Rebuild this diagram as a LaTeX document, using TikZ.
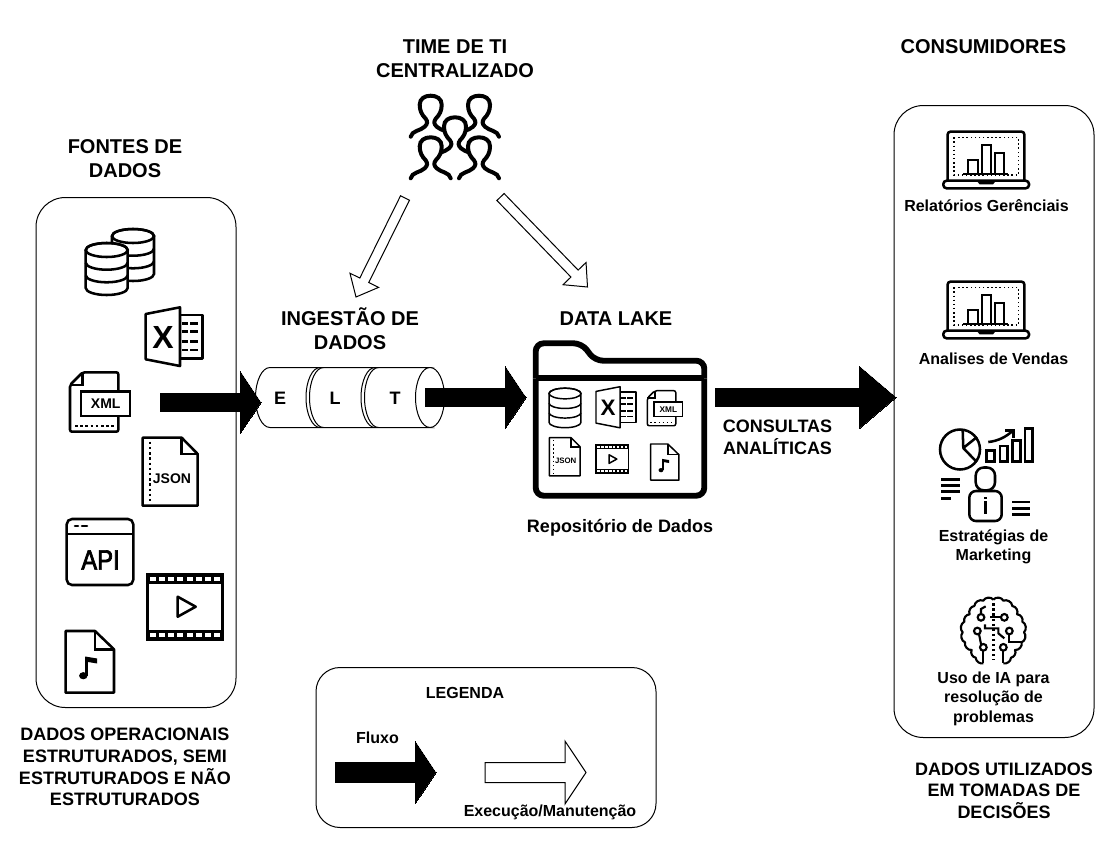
\documentclass[tikz,border=0pt]{standalone}
\usepackage{fontspec}
\setmainfont{Liberation Sans}
\newfontfamily\apifont[FakeBold=2.5,FakeStretch=.85]{Liberation Sans}
\usetikzlibrary{calc}

\tikzset{
    titletext/.style={inner sep=0, align=center, font=\fontsize{15}{18}\selectfont\bfseries},
    midtext/.style={inner sep=0, align=center, font=\fontsize{13.5}{16.2}\selectfont\bfseries},
    smalltext/.style={inner sep=0, align=center, font=\fontsize{12}{14.6}\selectfont\bfseries},
    groupbox/.style={draw, line width=.75pt, rounded corners=22pt},
    flowarrow/.style={fill=black, draw=black, line width=0pt},
    execarrow/.style={fill=white, draw=black, line width=.75pt},
    pics/xlsicon/.style={code={
        \draw[line join=round] (34.3,7.7) -- (57,7.7) -- (57,51.4) -- (34.3,51.4);
        \draw[line join=round] (0,6.7) -- (34.3,0) -- (34.3,58.7) -- (0,52) -- cycle;
        \foreach \rowy in {16,24.4,34.4,42.7} {
            \draw (36,\rowy) -- (42.6,\rowy);
            \draw (44.3,\rowy) -- (52.6,\rowy);
        }
        \node[transform shape, inner sep=0, font=\fontsize{24}{24}\selectfont\bfseries] (xmark) at (17.3,29.7) {X};
    }},
    pics/xmlicon/.style={code={
        \draw[rounded corners=1.5pt] (0,12.7) -- (12.7,0) -- (48.3,0) -- (48.3,59.4) -- (0,59.4) -- cycle;
        \draw (12.7,0) -- (12.7,12.7) -- (0,12.7);
        \draw[dotted] (5,53.7) -- (45,53.7);
        \draw[fill=white] (11,19.4) rectangle (60,43.7);
        \node[transform shape, inner sep=0, font=\fontsize{10.5}{10.5}\selectfont\bfseries] (xmltag) at (35.7,31.7) {XML};
    }},
    pics/jsonicon/.style={code={
        \draw[line join=round] (0,0) -- (39,0) -- (55,16.3) -- (55,68) -- (0,68) -- cycle;
        \draw (39,0) -- (39,16.3) -- (55,16.3);
        \draw[dotted] (7.3,4) -- (7.3,64);
        \node[transform shape, inner sep=0, font=\fontsize{10.5}{10.5}\selectfont\bfseries] (jsontag) at (29.3,40.6) {JSON};
    }},
    pics/filmicon/.style={code={
        \fill (0,0) rectangle (75.4,10);
        \fill (0,56) rectangle (75.4,66);
        \foreach \holeno in {0,...,7} {
            \fill[white] (2.5+9.2*\holeno,2.7) rectangle (8.5+9.2*\holeno,7.3);
            \fill[white] (2.5+9.2*\holeno,58.7) rectangle (8.5+9.2*\holeno,63.3);
        }
        \draw (0,0) rectangle (75.4,66);
        \draw[line join=round] (30.4,22.7) -- (30.4,42.7) -- (48.4,32.7) -- cycle;
    }},
    pics/musicicon/.style={code={
        \draw[line join=round] (0,0) -- (29.3,0) -- (48.3,18.3) -- (48.3,61.7) -- (0,61.7) -- cycle;
        \draw (29.3,0) -- (29.3,18.3) -- (48.3,18.3);
        \fill (17.6,44.7) ellipse (4.2 and 3.6);
        \fill (19.5,44.7) rectangle (22.4,26);
        \fill (19.5,25.5) -- (31.5,27.5) -- (31.5,32.5) -- (19.5,30.5) -- cycle;
    }},
    pics/dbicon/.style={code={
        \draw[fill=white] (-21,0) -- (-21,38) arc (180:0:21 and 7) -- (21,0) arc (0:-180:21 and 7);
        \draw (0,0) ellipse (21 and 7);
        \draw (-21,12.7) arc (180:0:21 and 7);
        \draw (-21,25.3) arc (180:0:21 and 7);
    }},
    pics/laptopicon/.style={code={
        \draw[rounded corners=2pt] (4.4,49) -- (4.4,0) -- (81,0) -- (81,49);
        \draw[rounded corners=2.5pt] (0,49) -- (85.7,49) -- (85.7,56.6) -- (0,56.6) -- cycle;
        \draw (35,49) -- (37,51.5) -- (49,51.5) -- (51,49);
        \draw[dotted, line width=1.1pt] (10.7,5.6) rectangle (75,43.3);
        \draw[line width=1.6pt] (20,42.6) -- (65,42.6);
        \draw[line width=1.6pt] (24.4,42.6) -- (24.4,28.3) -- (34.4,28.3) -- (34.4,42.6);
        \draw[line width=1.6pt] (38.4,42.6) -- (38.4,13.3) -- (47.4,13.3) -- (47.4,42.6);
        \draw[line width=1.6pt] (51.7,42.6) -- (51.7,21.6) -- (61,21.6) -- (61,42.6);
    }},
    pics/teamperson/.style={code={
        \draw[fill=white, line width=3pt, line cap=round]
        (-20,30) .. controls (-19,24) and (-10,24) .. (-6,20)
        .. controls (-3,17) and (-3,15) .. (-5,12)
        .. controls (-9,8) and (-11,4) .. (-11,-2)
        .. controls (-11,-8) and (-6,-11) .. (0,-11)
        .. controls (6,-11) and (11,-8) .. (11,-2)
        .. controls (11,4) and (9,8) .. (5,12)
        .. controls (3,15) and (3,17) .. (6,20)
        .. controls (10,24) and (19,24) .. (20,30);
    }},
}

\newcommand{\blockarrow}[6][]{
    \coordinate (hb) at ($(#3)!#4!(#2)$);
    \draw[#1] ($(#2)!#5!90:(#3)$) -- ($(hb)!#5!-90:(#2)$) -- ($(hb)!#6!-90:(#2)$) -- (#3)
    -- ($(hb)!#6!90:(#2)$) -- ($(hb)!#5!90:(#2)$) -- ($(#2)!#5!-90:(#3)$) -- cycle;
}

\begin{document}
\begin{tikzpicture}[x=.75pt, y=-.75pt]
    \useasboundingbox (0,0) rectangle (1109,843);

    \draw[groupbox] (36,197.5) rectangle (236,707.5);
    \draw[groupbox] (894,105.5) rectangle (1094,737.5);
    \draw[groupbox, rounded corners=18pt] (316,667.5) rectangle (656,827.5);

    \node[titletext] (team) at (455,59) {TIME DE TI\\CENTRALIZADO};
    \node[titletext] (consumers) at (983.5,47) {CONSUMIDORES};
    \node[titletext] (sources) at (125,159) {FONTES DE\\DADOS};
    \node[titletext] (ingest) at (350,329) {INGESTÃO DE\\DADOS};
    \node[titletext] (lake) at (616,319) {DATA LAKE};
    \node[midtext] (repo) at (620,527.5) {Repositório de Dados};
    \node[midtext] (queries) at (777.5,437.5) {CONSULTAS\\ANALÍTICAS};
    \node[midtext] (sourcesnote) at (125,767) {DADOS OPERACIONAIS\\ESTRUTURADOS, SEMI\\ESTRUTURADOS E NÃO\\ESTRUTURADOS};
    \node[midtext] (usednote) at (1004,790.5) {DADOS UTILIZADOS\\EM TOMADAS DE\\DECISÕES};

    \node[smalltext] (reports) at (986.5,205.5) {Relatórios Gerênciais};
    \node[smalltext] (sales) at (993.5,358.5) {Analises de Vendas};
    \node[smalltext] (marketing) at (993.5,547) {Estratégias de\\Marketing};
    \node[smalltext] (aiuse) at (993.5,698.5) {Uso de IA para\\resolução de\\problemas};
    \node[smalltext] (legend) at (465,692.5) {LEGENDA};
    \node[smalltext] (flowlabel) at (377.5,737.5) {Fluxo};
    \node[smalltext] (execlabel) at (550,812.5) {Execução/Manutenção};

    \begin{scope}[line width=1.9pt]
        \pic (dbback) at (133,236) {dbicon};
        \pic (dbfront) at (106.7,250) {dbicon};
        \pic (xlsbig) at (145.7,307.3) {xlsicon};
        \pic (xmlbig) at (70,372.3) {xmlicon};
        \pic (jsonbig) at (142.7,437.7) {jsonicon};
        \pic (filmbig) at (147.3,574) {filmicon};
        \pic (musicbig) at (65.7,631) {musicicon};
        \pic (reportpc) at (943.3,131.7) {laptopicon};
        \pic (salespc) at (943.3,281.7) {laptopicon};

        \draw[rounded corners=4pt] (66.7,519) rectangle (133.3,585);
        \draw (66.7,534) -- (133.3,534);
        \draw[line cap=round] (75,526) -- (78,526);
        \draw[line cap=round] (82,526) -- (87,526);
        \node[inner sep=0, font=\apifont\fontsize{21}{21}\selectfont] (apitag) at (100.5,560) {API};
    \end{scope}

    \pic (persona) at (430.7,106.7) {teamperson};
    \pic (personb) at (479,106.7) {teamperson};
    \pic (personc) at (455,128.3) {teamperson};
    \pic (persond) at (430.7,148.3) {teamperson};
    \pic (persone) at (479,148.3) {teamperson};

    \draw[line width=.75pt] (270,367.5) -- (430,367.5) arc (270:90:14.5 and 30) -- (270,427.5) arc (90:270:14.5 and 30);
    \draw[line width=.75pt] (430,367.5) arc (270:450:14.5 and 30);
    \foreach \arcx in {320,323.5,375,378.5} {
        \draw[line width=.75pt] (\arcx,367.5) arc (270:90:14 and 30);
    }
    \node[midtext] (extract) at (280,398) {E};
    \node[midtext] (load) at (335,398) {L};
    \node[midtext] (transform) at (395,398) {T};

    \draw[line width=4.4pt, rounded corners=6pt] (535.7,378.3) -- (535.7,343.3) -- (581.7,343.3) -- (595,360.7) -- (704.3,360.7) -- (704.3,378.3);
    \draw[line width=4.4pt, rounded corners=6pt] (535.7,378.3) -- (535.7,495.7) -- (704.3,495.7) -- (704.3,378.3);
    \draw[line width=4.4pt] (535.7,378.3) -- (704.3,378.3);

    \begin{scope}[line width=1.1pt]
        \pic[scale=.76] (dblake) at (565,393.5) {dbicon};
        \pic[scale=.7] (xlslake) at (596,386.7) {xlsicon};
        \pic[scale=.59] (xmllake) at (647.3,390.7) {xmlicon};
        \pic[scale=.56] (jsonlake) at (549.3,437.7) {jsonicon};
        \pic[scale=.43] (filmlake) at (596,445) {filmicon};
        \pic[scale=.585] (musiclake) at (650.7,444) {musicicon};
    \end{scope}

    \begin{scope}[line width=1.9pt]
        \draw (960,449.5) circle (20);
        \draw[line join=round] (962.7,431) -- (963.3,448) -- (977,437);
        \draw (963.3,448) -- (976.7,462);
        \draw (986.7,450.3) rectangle (994.3,461.3);
        \draw (1000,446) rectangle (1007.7,461.3);
        \draw (1012.7,440.3) rectangle (1020.3,461.3);
        \draw (1025,428.7) rectangle (1032.3,461.3);
        \draw (988.3,442) .. controls (998,441) and (1006,437) .. (1013.3,430.3);
        \draw (1005,430.3) -- (1013.3,430.3) -- (1013.3,438);
        \draw[rounded corners=6pt] (975.7,490.3) -- (975.7,467.5) -- (995,467.5) -- (995,490.3) -- cycle;
        \draw[rounded corners=5pt] (969.3,521) -- (969.3,491) -- (1001.7,491) -- (1001.7,521) -- cycle;
        \draw (985.7,497) -- (985.7,499);
        \draw (985.7,501) -- (985.7,514);
        \draw[line width=2.2pt] (941,479.3) -- (960,479.3);
        \draw[line width=2.2pt] (941,485.5) -- (960,485.5);
        \draw[line width=2.2pt] (941,491.8) -- (960,491.8);
        \draw[line width=2.2pt] (941,498.5) -- (951,498.5);
        \draw[line width=2.2pt] (1012.3,502) -- (1030,502);
        \draw[line width=2.2pt] (1012.3,508.3) -- (1030,508.3);
        \draw[line width=2.2pt] (1012.3,514.5) -- (1030,514.5);
    \end{scope}

    \begin{scope}[shift={(955,595)}, scale=.3333, line width=1.6pt]
        \draw[line join=round] (115,14) to[bend right=60] (85,17) to[bend right=55] (58,33) to[bend right=55] (44,58)
        to[bend right=55] (28,80) to[bend right=55] (23,112) to[bend right=55] (30,142) to[bend right=55] (50,165)
        to[bend right=55] (62,188) to[bend right=50] (85,205);
        \draw[line join=round] (115,14) to[bend left=60] (145,17) to[bend left=55] (172,33) to[bend left=55] (186,58)
        to[bend left=55] (202,80) to[bend left=55] (207,112) to[bend left=55] (200,142) to[bend left=55] (180,165)
        to[bend left=55] (168,188) to[bend left=50] (145,205);
        \draw[dotted, line width=1.8pt] (115,25) -- (115,195);
        \draw (78,67) circle (10);
        \draw (148,67) circle (10);
        \draw (67,108) circle (10);
        \draw (163,108) circle (10);
        \draw (85,157) circle (10);
        \draw (145,157) circle (10);
        \draw (78,57) -- (78,42) -- (92,34);
        \draw (138,67) -- (105,67);
        \draw (72,117) -- (78,147);
        \draw (90,88) -- (90,100) -- (130,100) -- (130,115) -- (148,130);
        \draw (163,118) -- (163,142) -- (205,142);
        \draw (85,167) -- (85,205);
        \draw (145,167) -- (145,205);
    \end{scope}

    \coordinate (srcout) at (160,402.5);
    \coordinate (eltin) at (261,402.5);
    \coordinate (eltout) at (425,397.5);
    \coordinate (lakein) at (526,397.5);
    \coordinate (lakeout) at (715,397.5);
    \coordinate (usersin) at (896,397.5);
    \coordinate (teamleft) at (405,198);
    \coordinate (ingestin) at (356,297);
    \coordinate (teamright) at (500.5,197);
    \coordinate (lakeintop) at (587.5,287);
    \coordinate (flowa) at (335,772.5);
    \coordinate (flowb) at (436,772.5);
    \coordinate (execa) at (485,772.5);
    \coordinate (execb) at (586,772.5);

    \blockarrow[flowarrow]{srcout}{eltin}{15.75pt}{7.1pt}{23.6pt}
    \blockarrow[flowarrow]{eltout}{lakein}{15.75pt}{7.1pt}{23.6pt}
    \blockarrow[flowarrow]{lakeout}{usersin}{27.75pt}{7.1pt}{23.6pt}
    \blockarrow[execarrow]{teamleft}{ingestin}{14pt}{3.75pt}{12pt}
    \blockarrow[execarrow]{teamright}{lakeintop}{14pt}{3.75pt}{12pt}
    \blockarrow[flowarrow]{flowa}{flowb}{15.75pt}{7.5pt}{23.6pt}
    \blockarrow[execarrow]{execa}{execb}{15.75pt}{7.5pt}{23.6pt}
\end{tikzpicture}
\end{document}
